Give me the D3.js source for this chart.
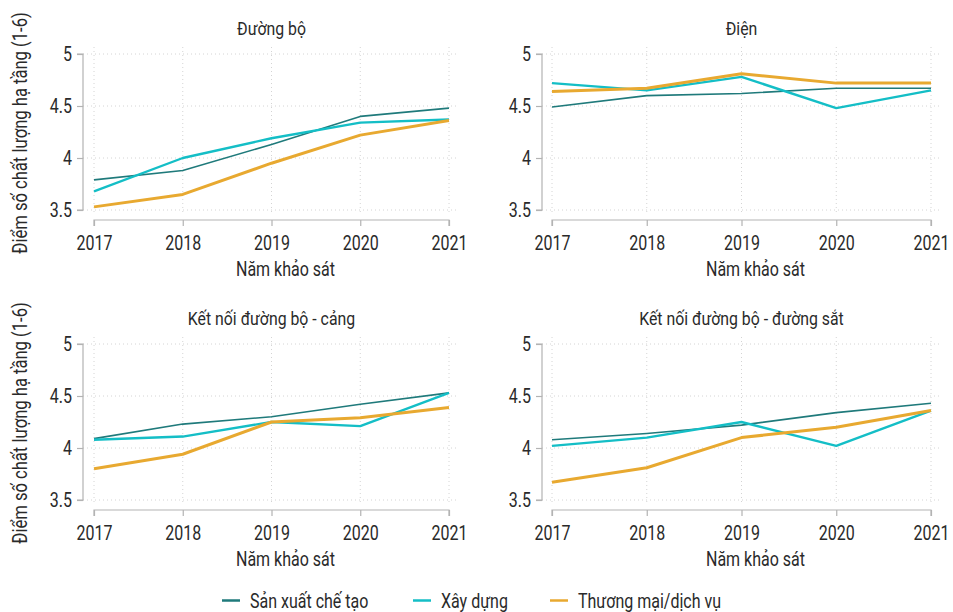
<!DOCTYPE html>
<html><head><meta charset="utf-8">
<script src="https://cdn.jsdelivr.net/npm/d3@7"></script>
<style>
body{margin:0;background:#fff;}
svg{font-family:"Roboto","Liberation Sans",sans-serif;}
</style></head>
<body>
<svg id="c" width="953" height="612"></svg>
<script>
const years = [2017, 2018, 2019, 2020, 2021];
const yTicks = [3.5, 4, 4.5, 5];
const seriesNames = ["Sản xuất chế tạo", "Xây dựng", "Thương mại/dịch vụ"];
const seriesColors = ["#1f7a7b", "#14bec6", "#e8a930"];
const seriesWidths = [1.6, 2.4, 3];
const panelTitles = ["Đường bộ", "Điện", "Kết nối đường bộ - cảng", "Kết nối đường bộ - đường sắt"];
const duongBo = [[3.79, 3.88, 4.13, 4.40, 4.48], [3.68, 4.00, 4.19, 4.34, 4.37], [3.53, 3.65, 3.95, 4.22, 4.36]];
const dien = [[4.49, 4.60, 4.62, 4.67, 4.67], [4.72, 4.65, 4.78, 4.48, 4.65], [4.64, 4.67, 4.81, 4.72, 4.72]];
const cang = [[4.09, 4.23, 4.30, 4.42, 4.53], [4.08, 4.11, 4.25, 4.21, 4.53], [3.80, 3.94, 4.25, 4.29, 4.39]];
const duongSat = [[4.08, 4.14, 4.22, 4.34, 4.43], [4.02, 4.10, 4.25, 4.02, 4.36], [3.67, 3.81, 4.10, 4.20, 4.36]];
const panelData = [duongBo, dien, cang, duongSat];
const xTitle = "Năm khảo sát";
const yTitle = "Điểm số chất lượng hạ tầng (1-6)";

const svg = d3.select("#c");
const panels = [
  {x0: 94, x1: 449, y0: 54, y1: 210, ax: 83},
  {x0: 552, x1: 931, y0: 54, y1: 210, ax: 542},
  {x0: 94, x1: 449, y0: 344, y1: 500, ax: 83},
  {x0: 552, x1: 931, y0: 344, y1: 500, ax: 542}
];
const grid = "#d4d4d4", axc = "#b3b3b3", tc = "#2a2a2a";
const K = 0.8; // horizontal condensing of text

function label(g, x, y, s, size, k, anchor, rot) {
  return g.append("text")
    .attr("transform", `translate(${x},${y})${rot ? " rotate(" + rot + ")" : ""} scale(${k},1)`)
    .attr("text-anchor", anchor).attr("font-size", size).attr("fill", tc).text(s);
}

panels.forEach((p, i) => {
  const x = d3.scaleLinear().domain([2017, 2021]).range([p.x0, p.x1]);
  const y = d3.scaleLinear().domain([3.5, 5]).range([p.y1, p.y0]);
  const g = svg.append("g");
  // grid
  g.selectAll(".hg").data(yTicks).join("line")
    .attr("x1", p.ax).attr("x2", p.x1 + 9)
    .attr("y1", d => y(d)).attr("y2", d => y(d))
    .attr("stroke", grid).attr("stroke-width", 1).attr("stroke-dasharray", "1,3");
  g.selectAll(".vg").data(years).join("line")
    .attr("x1", d => x(d)).attr("x2", d => x(d))
    .attr("y1", p.y0 - 7).attr("y2", p.y1 + 3)
    .attr("stroke", grid).attr("stroke-width", 1).attr("stroke-dasharray", "1,3");
  // y axis
  const ya = g.append("g").attr("transform", `translate(${p.ax},0)`)
    .call(d3.axisLeft(y).tickValues(yTicks).tickFormat(d3.format("")).tickSize(6).tickPadding(5));
  ya.attr("font-family", null).attr("font-size", null);
  ya.select(".domain").attr("stroke", axc).attr("stroke-width", 1.2).attr("d", `M-6,${p.y0}H0V${p.y1}H-6`);
  ya.selectAll(".tick line").attr("stroke", axc).attr("stroke-width", 1.2);
  ya.selectAll(".tick text").attr("fill", tc).attr("font-size", 20)
    .attr("x", -11 / K).attr("transform", `scale(${K},1)`);
  // x axis
  const xa = g.append("g").attr("transform", `translate(0,${p.y1 + 10})`)
    .call(d3.axisBottom(x).tickValues(years).tickFormat(d3.format("d")).tickSize(6).tickPadding(10));
  xa.attr("font-family", null).attr("font-size", null);
  xa.select(".domain").attr("stroke", axc).attr("stroke-width", 1.2).attr("d", `M${p.x0},6V0H${p.x1}V6`);
  xa.selectAll(".tick line").attr("stroke", axc).attr("stroke-width", 1.2);
  xa.selectAll(".tick text").attr("fill", tc).attr("font-size", 20).attr("transform", `scale(${K},1)`);
  // lines
  const line = d3.line().x((d, j) => x(years[j])).y(d => y(d));
  panelData[i].forEach((vals, k) => {
    g.append("path").datum(vals).attr("d", line)
      .attr("fill", "none").attr("stroke", seriesColors[k]).attr("stroke-width", seriesWidths[k])
      .attr("stroke-linejoin", "round");
  });
  // titles
  label(g, (p.x0 + p.x1) / 2, p.y0 - 19, panelTitles[i], 18, 0.88, "middle");
  label(g, (p.x0 + p.x1) / 2 + 14, p.y1 + 66, xTitle, 20, K, "middle");
  if (i % 2 === 0) {
    label(g, 27, (p.y0 + p.y1) / 2 + 1, yTitle, 20, 0.83, "middle", -90);
  }
});

// legend
const legX = [222, 413, 550];
const lg = svg.append("g");
seriesNames.forEach((n, k) => {
  lg.append("line").attr("x1", legX[k]).attr("x2", legX[k] + 18).attr("y1", 600.5).attr("y2", 600.5)
    .attr("stroke", seriesColors[k]).attr("stroke-width", 2.5);
  label(lg, legX[k] + 28, 608, n, 20, K, "start");
});
</script>
</body></html>
